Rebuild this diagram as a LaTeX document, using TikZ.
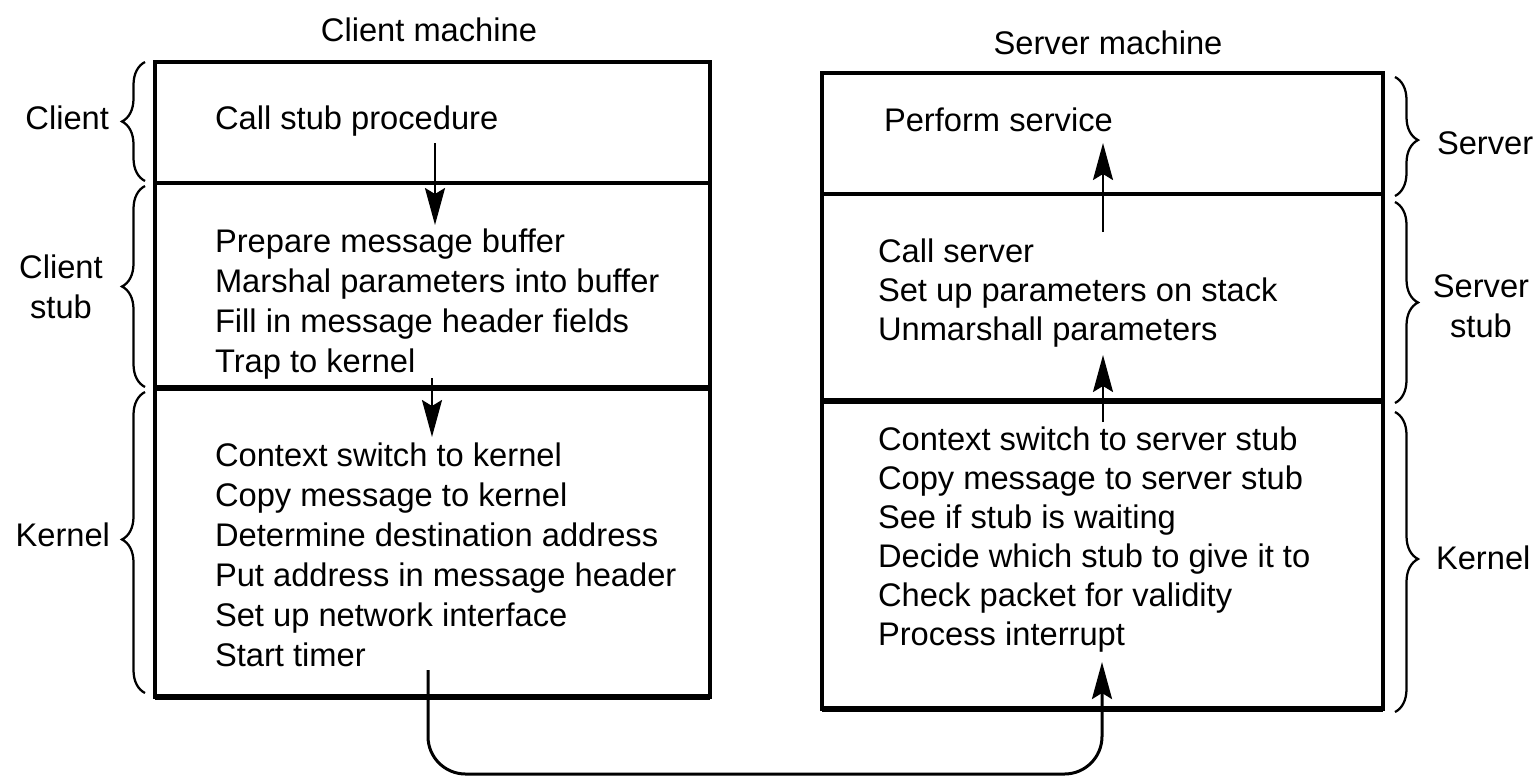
\documentclass[tikz,border=0pt]{standalone}
\usepackage{fontspec}
\setmainfont{Liberation Sans}
\usetikzlibrary{arrows.meta,decorations.pathreplacing}

\begin{document}
\begin{tikzpicture}[x=0.02cm,y=-0.02cm,
  every node/.style={inner sep=0pt, outer sep=0pt,
    font=\fontsize{18.6pt}{22.7pt}\selectfont},
  stepline/.style={anchor=base west},
  sidelabel/.style={align=center},
  frame/.style={line width=0.08cm},
  thin divider/.style={line width=0.07cm},
  thick divider/.style={line width=0.12cm},
  flow/.style={line width=0.05cm,
    -{Stealth[length=0.74cm,width=0.4cm,inset=0.12cm]}},
  layerbrace/.style={decorate,
    decoration={brace, amplitude=0.46cm, aspect=#1}, line width=0.045cm},
  layerbrace/.default=0.5,
]
\useasboundingbox (0,0) rectangle (1535,782);

% ---------------- titles ----------------
\node (cmtitle) at (429,30) {Client machine};
\node (smtitle) at (1108,43) {Server machine};

% ---------------- client machine ----------------
\draw[frame] (155,62) rectangle (710,697);
\draw[thin divider] (155,183) -- (710,183);
\draw[thick divider] (155,388) -- (710,388);
\draw[thick divider] (155,697) -- (710,697);

\node[stepline] (ccall) at (215,129) {Call stub procedure};
\foreach \t [count=\i] in {Prepare message buffer,
    Marshal parameters into buffer,
    Fill in message header fields,
    Trap to kernel}
  \node[stepline] (cstub\i) at (215,{252+40*(\i-1)}) {\t};
\foreach \t [count=\i] in {Context switch to kernel,
    Copy message to kernel,
    Determine destination address,
    Put address in message header,
    Set up network interface,
    Start timer}
  \node[stepline] (ckern\i) at (215,{466+40*(\i-1)}) {\t};

% ---------------- server machine ----------------
\draw[frame] (822,73) rectangle (1383,709);
\draw[thin divider] (822,194) -- (1383,194);
\draw[thick divider] (822,401) -- (1383,401);
\draw[thick divider] (822,709) -- (1383,709);

\node[stepline] (sserve) at (884,131) {Perform service};
\foreach \t [count=\i] in {Call server,
    Set up parameters on stack,
    Unmarshall parameters}
  \node[stepline] (sstub\i) at (878,{262+39*(\i-1)}) {\t};
\foreach \t [count=\i] in {Context switch to server stub,
    Copy message to server stub,
    See if stub is waiting,
    Decide which stub to give it to,
    Check packet for validity,
    Process interrupt}
  \node[stepline] (skern\i) at (878,{450+39*(\i-1)}) {\t};

% ---------------- layer braces and names ----------------
\draw[layerbrace] (145,181) -- (145,62);
\draw[layerbrace] (145,387) -- (145,186);
\draw[layerbrace=0.51] (145,693) -- (145,392);
\node[anchor=east] (lclient) at (109,118) {Client};
\node[sidelabel] (lcstub) at (61,287) {Client\\stub};
\node[anchor=east] (lckern) at (110,535) {Kernel};

\draw[layerbrace=0.53] (1395,77) -- (1395,196);
\draw[layerbrace] (1395,202) -- (1395,403);
\draw[layerbrace=0.49] (1395,412) -- (1395,712);
\node[anchor=west] (rserver) at (1437,143) {Server};
\node[sidelabel] (rsstub) at (1481,306) {Server\\stub};
\node[anchor=west] (rskern) at (1436,558) {Kernel};

% ---------------- control flow ----------------
\coordinate (c1a) at (435,143);
\coordinate (c1b) at (435,225);
\coordinate (c2a) at (432,378);
\coordinate (c2b) at (432,437);
\draw[flow] (c1a) -- (c1b);
\draw[flow] (c2a) -- (c2b);

\coordinate (netout) at (428,670);
\coordinate (netin) at (1102,662);
\draw[flow, line width=0.06cm, rounded corners=0.75cm]
  (netout) -- (428,774) -- (1102,774) -- (netin);

\coordinate (s1a) at (1103,422);
\coordinate (s1b) at (1103,355);
\coordinate (s2a) at (1103,232);
\coordinate (s2b) at (1103,143);
\draw[flow] (s1a) -- (s1b);
\draw[flow] (s2a) -- (s2b);
\end{tikzpicture}
\end{document}
